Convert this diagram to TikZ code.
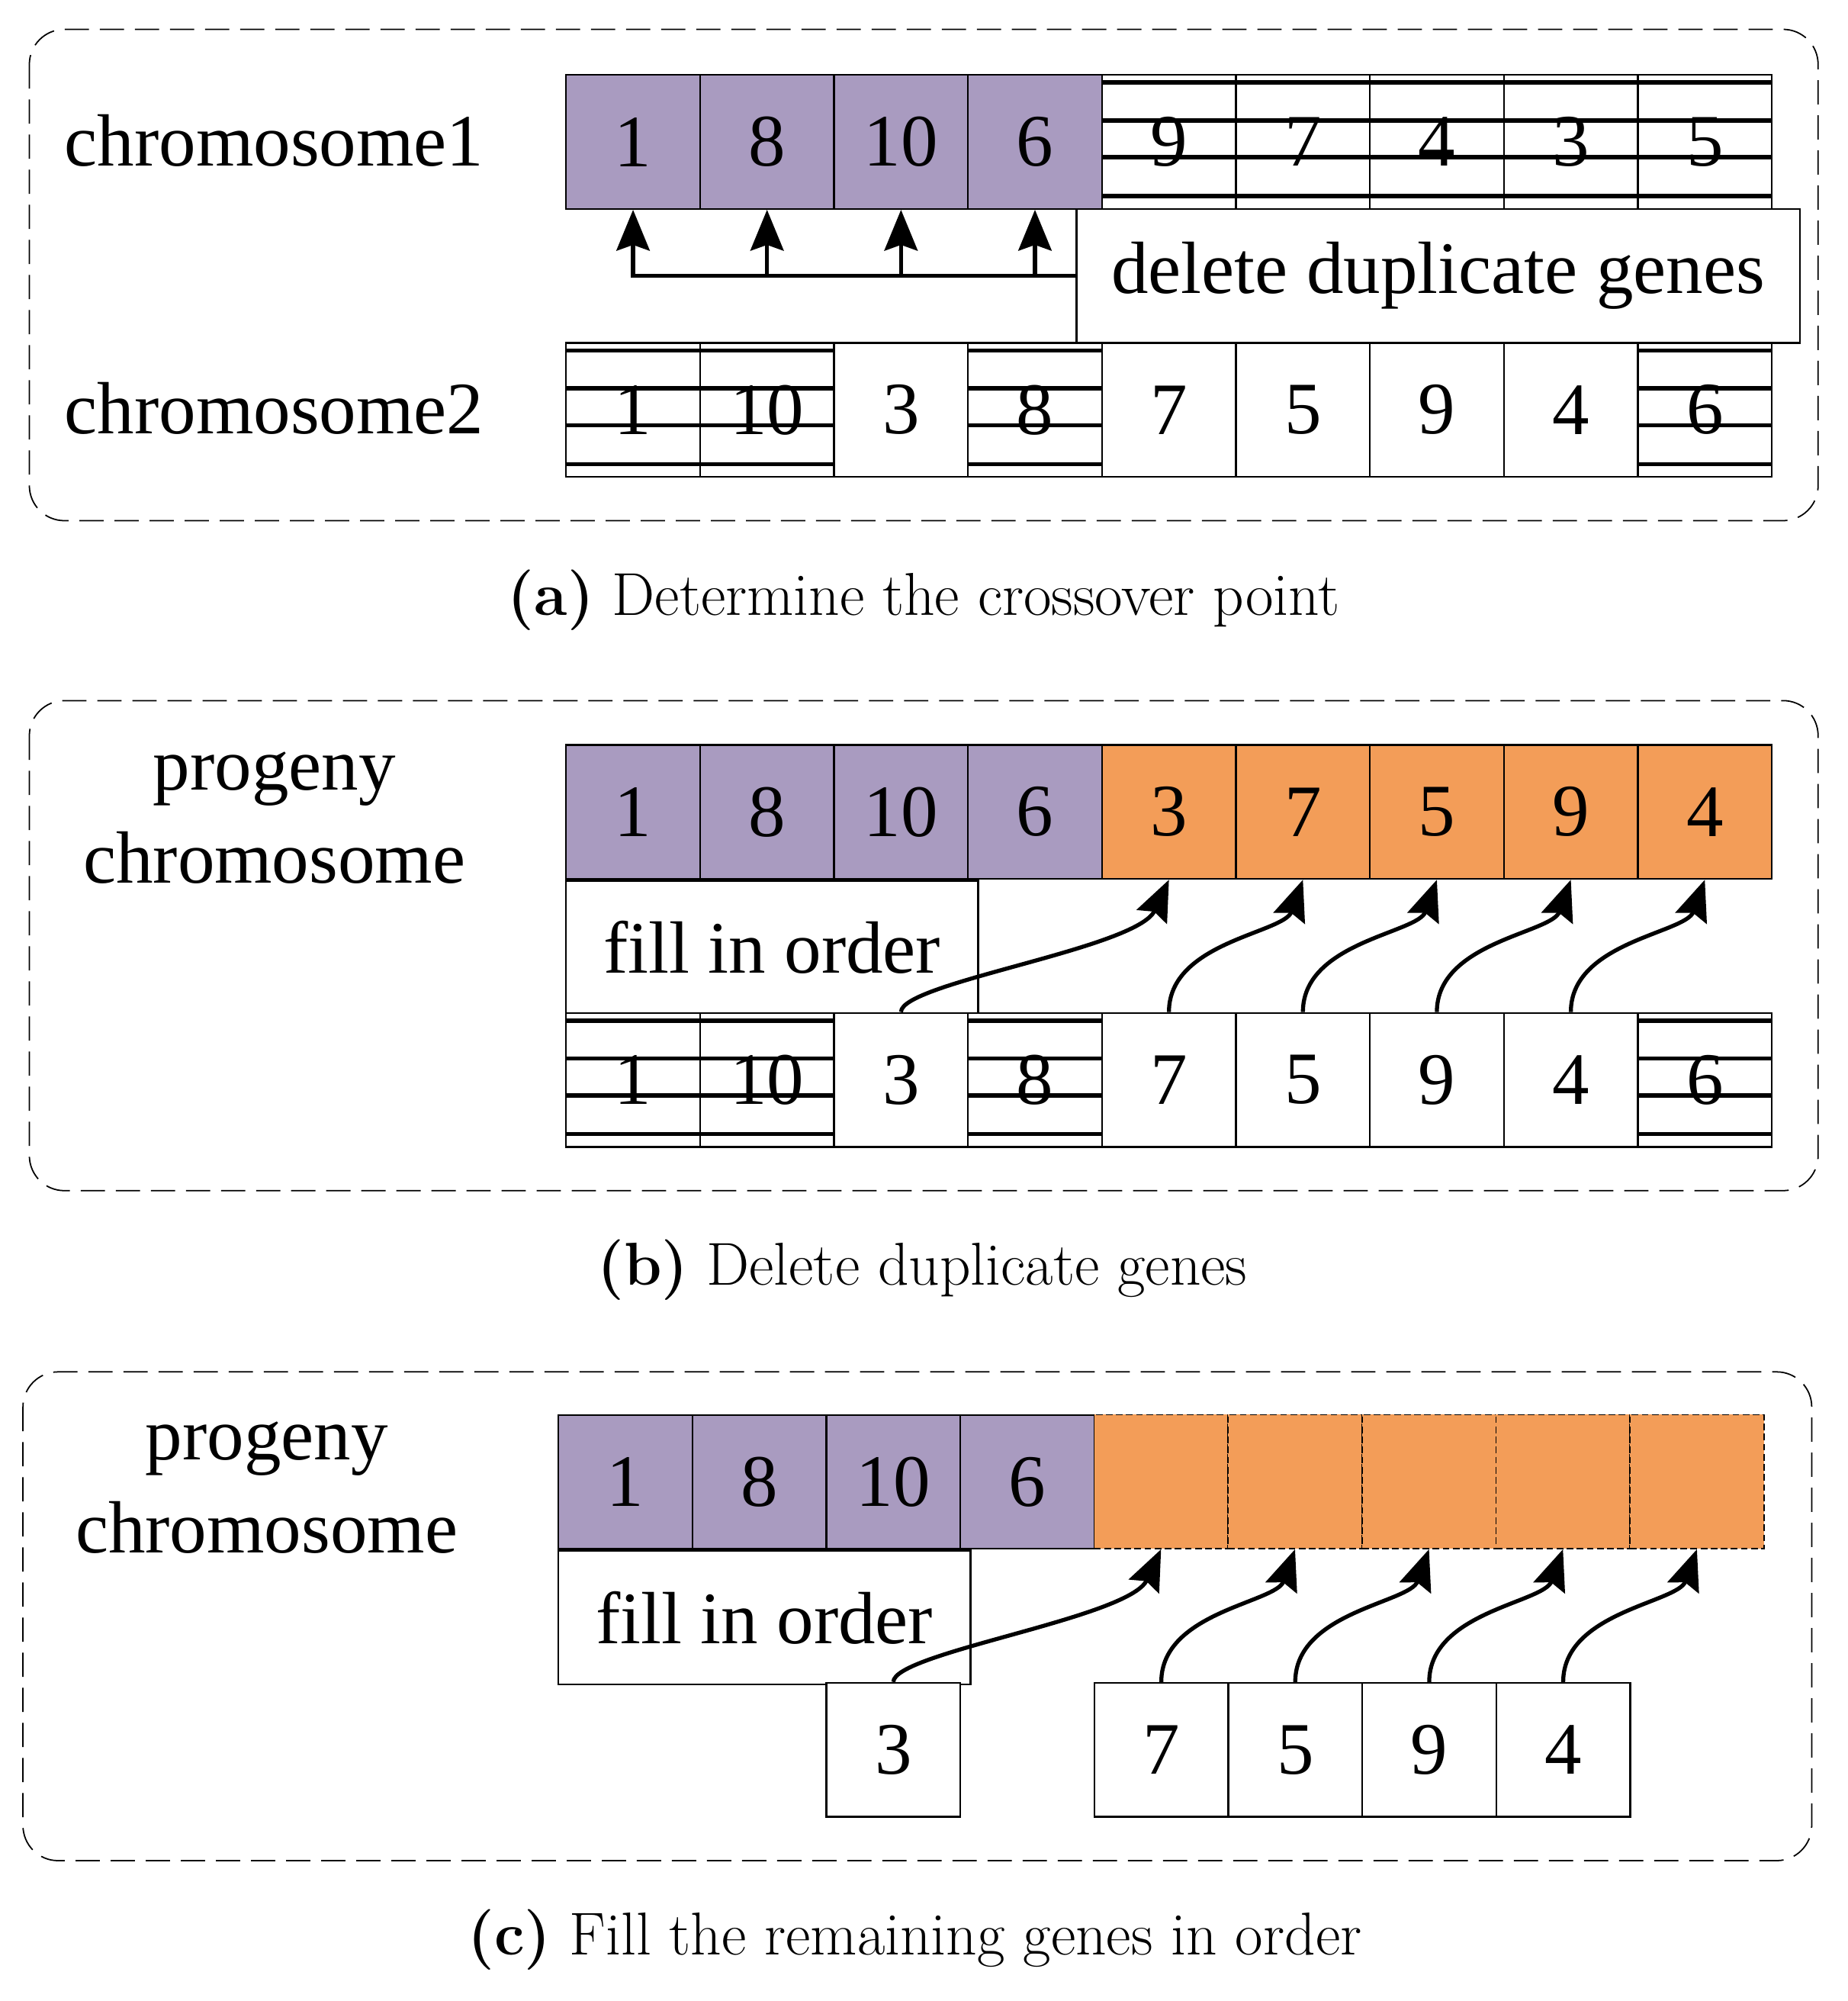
\documentclass[tikz,border=0pt]{standalone}
\usepackage{fontspec}
\newfontfamily\genefont{Liberation Serif}
\usetikzlibrary{arrows.meta,positioning,calc}
\definecolor{parentpurple}{RGB}{169,155,192}
\definecolor{fillorange}{RGB}{243,157,88}

\begin{document}
\begin{tikzpicture}[
    x=0.02cm, y=0.02cm,
    every node/.style={font=\genefont\fontsize{33}{38}\selectfont},
    gene/.style={rectangle, draw=black, line width=0.8pt, minimum width=2.1cm,
                 minimum height=2.1cm, inner sep=0pt, anchor=north west},
    parentgene/.style={gene, fill=parentpurple},
    childgene/.style={gene, fill=fillorange},
    emptygene/.style={gene, fill=fillorange, line width=0.6pt, dash pattern=on 3pt off 1.5pt},
    keptgene/.style={gene, fill=white},
    struckgene/.style={gene, fill=white, path picture={
        \foreach \f in {0.057,0.34,0.615,0.905}
          \draw[line width=1.9pt]
            ($(path picture bounding box.north west)!\f!(path picture bounding box.south west)$) --
            ($(path picture bounding box.north east)!\f!(path picture bounding box.south east)$);}},
    note/.style={rectangle, draw=black, fill=white, line width=0.8pt, minimum height=2.1cm,
                 inner sep=0pt, anchor=north west},
    panel/.style={draw, line width=0.6pt, dash pattern=on 0.38cm off 0.17cm, rounded corners=0.55cm},
    caption/.style={font=\fontsize{27}{32}\selectfont},
    arrow/.style={-{Stealth[length=0.64cm, width=0.52cm, inset=0.09cm]}, line width=1.8pt}
]
\useasboundingbox (0,0) rectangle (1448,-1568);

% Panels
\draw[panel] (23,-23) rectangle (1425,-408);
\draw[panel] (23,-549) rectangle (1425,-933);
\draw[panel] (18,-1075) rectangle (1420,-1458);

% (a) crossover point
\node (lblA1) at (215,-110) {chromosome1};
\node (lblA2) at (215,-320) {chromosome2};
\foreach \i/\g/\s in {1/1/parentgene,2/8/parentgene,3/10/parentgene,4/6/parentgene,
    5/9/struckgene,6/7/struckgene,7/4/struckgene,8/3/struckgene,9/5/struckgene}
  \node[\s] (pA\i) at ({443+105*(\i-1)},-58) {\g};
\foreach \i/\g/\s in {1/1/struckgene,2/10/struckgene,3/3/keptgene,4/8/struckgene,
    5/7/keptgene,6/5/keptgene,7/9/keptgene,8/4/keptgene,9/6/struckgene}
  \node[\s] (qA\i) at ({443+105*(\i-1)},-268) {\g};
\node[note, minimum width=11.34cm] (del) at (843,-163) {delete duplicate genes};

\draw[arrow] (del.west) -| (pA1.south);
\foreach \i in {2,3,4}
  \draw[arrow] (pA\i.south |- del.west) -- (pA\i.south);

\node[caption] (capA) at (724,-470) {\textbf{(a)} Determine the crossover point};

% (b) delete duplicates
\node[anchor=base] (lblB1) at (215,-619) {progeny};
\node[anchor=base] (lblB2) at (215,-692) {chromosome};
\foreach \i/\g/\s in {1/1/parentgene,2/8/parentgene,3/10/parentgene,4/6/parentgene,
    5/3/childgene,6/7/childgene,7/5/childgene,8/9/childgene,9/4/childgene}
  \node[\s] (pB\i) at ({443+105*(\i-1)},-583) {\g};
\node[note, minimum width=6.46cm, below=0pt of pB1.south west, anchor=north west] (fillB) {fill in order};
\foreach \i/\g/\s in {1/1/struckgene,2/10/struckgene,3/3/keptgene,4/8/struckgene,
    5/7/keptgene,6/5/keptgene,7/9/keptgene,8/4/keptgene,9/6/struckgene}
  \node[\s] (qB\i) at ({443+105*(\i-1)},-793) {\g};

\draw[arrow] (qB3.north) .. controls +(0,23) and +(-25,-54) .. (pB5.south);
\foreach \i [evaluate=\i as \j using int(\i+1)] in {5,6,7,8}
  \draw[arrow] (qB\i.north) .. controls +(0,55) and +(-15,-42) .. (pB\j.south);

\node[caption] (capB) at (723,-995) {\textbf{(b)} Delete duplicate genes};

% (c) fill remaining genes
\node[anchor=base] (lblC1) at (209,-1144) {progeny};
\node[anchor=base] (lblC2) at (209,-1217) {chromosome};
\foreach \i/\g/\s in {1/1/parentgene,2/8/parentgene,3/10/parentgene,4/6/parentgene}
  \node[\s] (pC\i) at ({437+105*(\i-1)},-1108) {\g};
\foreach \i in {5,...,9}
  \node[emptygene] (pC\i) at ({437+105*(\i-1)},-1108) {};
\node[note, minimum width=6.46cm, below=0pt of pC1.south west, anchor=north west] (fillC) {fill in order};
\foreach \i/\g in {3/3,5/7,6/5,7/9,8/4}
  \node[keptgene] (qC\i) at ({437+105*(\i-1)},-1318) {\g};

\draw[arrow] (qC3.north) .. controls +(0,23) and +(-25,-54) .. (pC5.south);
\foreach \i [evaluate=\i as \j using int(\i+1)] in {5,6,7,8}
  \draw[arrow] (qC\i.north) .. controls +(0,55) and +(-15,-42) .. (pC\j.south);

\node[caption] (capC) at (717,-1520) {\textbf{(c)} Fill the remaining genes in order};

\end{tikzpicture}
\end{document}
